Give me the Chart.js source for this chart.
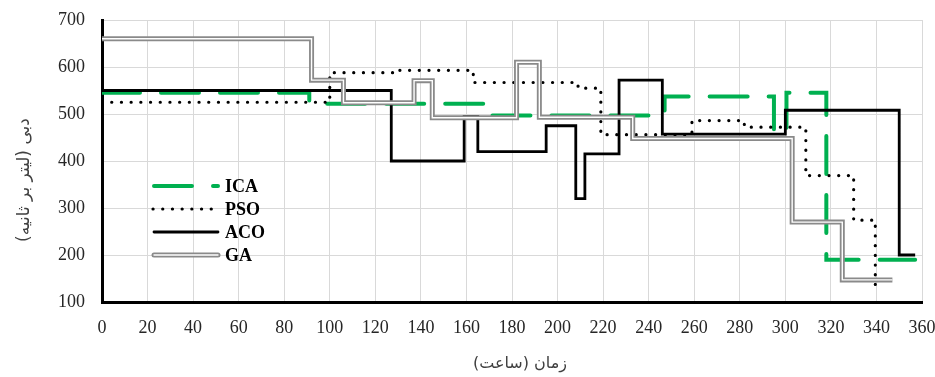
<!DOCTYPE html>
<html>
<head>
<meta charset="utf-8">
<script src="https://cdn.jsdelivr.net/npm/chart.js@4.4.0/dist/chart.umd.min.js"></script>
<style>
  body { margin: 0; background: #fff; }
  canvas { display: block; }
</style>
</head>
<body>
<canvas id="grafico" width="935" height="377"></canvas>
<script>
// Tiempos (horas) donde empieza cada escalón y caudal de ese escalón
const icaX = [0, 91, 170, 247, 295, 300.5, 318, 357];
const icaY = [545, 522, 497, 537, 460, 545, 190, 190];

const psoX = [0, 100, 128, 163, 209, 219, 259, 282, 309, 330, 339.5];
const psoY = [525, 588, 593, 567, 555, 456, 486, 472, 369, 274, 130];

const acoX = [0, 127, 159, 165, 195, 208, 212, 227, 246, 300, 350, 357];
const acoY = [550, 400, 495, 420, 475, 320, 415, 572, 457, 508, 200, 200];

const gaX = [0, 92, 106, 137, 145, 182, 192, 233, 303, 325, 347];
const gaY = [660, 572, 524, 571, 492, 610, 493, 448, 270, 147, 147];

const ticksX = { min: 0, max: 360, paso: 20 };
const ticksY = { min: 100, max: 700, paso: 100 };

const tituloX = 'زمان (ساعت)';
const tituloY = 'دبی (لیتر بر ثانیه)';

const VERDE = '#00b050';
const GRIS = '#8a8a8a';

function puntos(xs, ys) {
    return xs.map((x, i) => ({ x: x, y: ys[i] }));
}

// Leyenda dibujada dentro del área del gráfico, como en el original
const leyendaPlugin = {
    id: 'leyenda',
    afterDraw(chart) {
        const ctx = chart.ctx;
        const x0 = 154, x1 = 218, xt = 225;
        const filas = [
            { txt: 'ICA', y: 186 },
            { txt: 'PSO', y: 209 },
            { txt: 'ACO', y: 232 },
            { txt: 'GA', y: 255 }
        ];
        ctx.save();
        // ICA
        ctx.strokeStyle = VERDE; ctx.lineWidth = 4; ctx.lineCap = 'round';
        ctx.setLineDash([38, 21]);
        ctx.beginPath(); ctx.moveTo(x0, filas[0].y); ctx.lineTo(x1, filas[0].y); ctx.stroke();
        // PSO
        ctx.strokeStyle = '#000'; ctx.lineWidth = 3.2;
        ctx.setLineDash([0.1, 9.6]);
        ctx.beginPath(); ctx.moveTo(x0 - 1, filas[1].y); ctx.lineTo(x1 - 4, filas[1].y); ctx.stroke();
        // ACO
        ctx.setLineDash([]); ctx.lineWidth = 2.8; ctx.lineCap = 'round';
        ctx.beginPath(); ctx.moveTo(x0, filas[2].y); ctx.lineTo(x1, filas[2].y); ctx.stroke();
        // GA
        ctx.strokeStyle = GRIS; ctx.lineWidth = 5;
        ctx.beginPath(); ctx.moveTo(x0, filas[3].y); ctx.lineTo(x1, filas[3].y); ctx.stroke();
        ctx.strokeStyle = '#fff'; ctx.lineWidth = 1.4;
        ctx.beginPath(); ctx.moveTo(x0, filas[3].y); ctx.lineTo(x1, filas[3].y); ctx.stroke();

        ctx.fillStyle = '#000';
        ctx.font = 'bold 18px "Liberation Serif"';
        ctx.textBaseline = 'middle';
        ctx.textAlign = 'left';
        filas.forEach(f => ctx.fillText(f.txt, xt, f.y + 1));

        // Títulos de los ejes (texto persa, de derecha a izquierda)
        ctx.fillStyle = '#404040';
        ctx.font = '16px "DejaVu Sans"';
        ctx.textAlign = 'center';
        ctx.direction = 'rtl';
        ctx.fillText(tituloX, 520, 364);

        ctx.font = '17px "DejaVu Sans"';
        ctx.translate(25, 180);
        ctx.rotate(-Math.PI / 2);
        ctx.fillText(tituloY, 0, 0);
        ctx.restore();
    }
};

const ctx = document.getElementById('grafico').getContext('2d');
const grafico = new Chart(ctx, {
    type: 'line',
    data: {
        datasets: [
            {
                label: 'GA',
                data: puntos(gaX, gaY),
                borderColor: '#fff',
                borderWidth: 1.4,
                stepped: true,
                borderJoinStyle: 'miter'
            },
            {
                label: 'GA_borde',
                data: puntos(gaX, gaY),
                borderColor: GRIS,
                borderWidth: 5,
                stepped: true,
                borderJoinStyle: 'miter'
            },
            {
                label: 'PSO',
                data: puntos(psoX, psoY),
                borderColor: '#000',
                borderWidth: 3.2,
                borderDash: [0.1, 9.6],
                borderCapStyle: 'round',
                stepped: true
            },
            {
                label: 'ACO',
                data: puntos(acoX, acoY),
                borderColor: '#000',
                borderWidth: 2.8,
                stepped: true,
                borderJoinStyle: 'miter'
            },
            {
                label: 'ICA',
                data: puntos(icaX, icaY),
                borderColor: VERDE,
                borderWidth: 4,
                borderDash: [38, 21],
                borderCapStyle: 'round',
                stepped: true
            }
        ]
    },
    options: {
        responsive: false,
        animation: false,
        devicePixelRatio: 1,
        layout: { padding: { top: 20, right: 13, left: 0, bottom: 0 } },
        elements: { point: { radius: 0 }, line: { tension: 0 } },
        plugins: {
            legend: { display: false },
            tooltip: { enabled: false }
        },
        scales: {
            x: {
                type: 'linear',
                min: ticksX.min,
                max: ticksX.max,
                ticks: {
                    stepSize: ticksX.paso,
                    padding: 15,
                    maxRotation: 0,
                    autoSkip: false,
                    color: '#262626',
                    font: { family: '"Liberation Serif"', size: 18 }
                },
                grid: { color: '#d9d9d9', lineWidth: 1, drawTicks: false },
                border: { color: '#000', width: 3 },
                afterFit: s => { s.height = 75; s.paddingLeft = 0; s.paddingRight = 0; }
            },
            y: {
                min: ticksY.min,
                max: ticksY.max,
                ticks: {
                    stepSize: ticksY.paso,
                    padding: 17,
                    color: '#262626',
                    font: { family: '"Liberation Serif"', size: 18 }
                },
                grid: { color: '#d9d9d9', lineWidth: 1, drawTicks: false },
                border: { color: '#000', width: 3 },
                afterFit: s => { s.width = 102; s.paddingTop = 0; s.paddingBottom = 0; }
            }
        }
    },
    plugins: [leyendaPlugin]
});
</script>
</body>
</html>
